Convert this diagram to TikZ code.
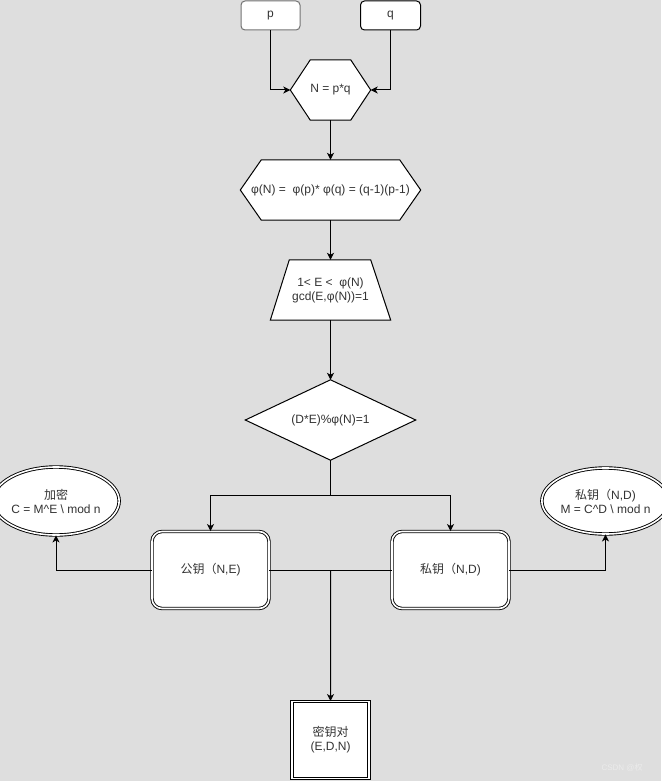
\documentclass[tikz,border=0pt]{standalone}
\usepackage{fontspec}
\setmainfont{Liberation Sans}
\newfontfamily\cjk{Noto Sans CJK SC}
\usetikzlibrary{arrows.meta,shapes.geometric,calc}
\pgfdeclarelayer{bglayer}
\pgfdeclarelayer{shapelayer}
\pgfsetlayers{bglayer,shapelayer,main}
\definecolor{bgc}{RGB}{222,222,222}
\definecolor{txt}{RGB}{51,51,51}
\tikzset{
  every node/.style={font=\fontsize{12}{14}\selectfont, text=txt, align=center, inner sep=0pt},
  arr/.style={draw=black, line width=1pt, -{Stealth[length=7pt,width=7pt,inset=2pt]}},
  ln/.style={draw=black, line width=1pt},
  rbox/.style={draw, fill=white, rounded corners=4pt, line width=1pt},
  dbl/.style={draw, fill=white, line width=0.9pt, double=white, double distance=1.6pt},
  shp/.style={draw=black, fill=white, line width=1pt, line join=miter},
}
\begin{document}
\begin{tikzpicture}[x=1pt,y=-1pt]
\begin{pgfonlayer}{bglayer}
\fill[bgc] (0,0) rectangle (661,781);
\end{pgfonlayer}
\useasboundingbox (0,0) rectangle (661,781);

% input boxes
\node[rbox, draw=black!55, minimum width=59, minimum height=29] (p) at (270.5,15.5) {p};
\node[rbox, minimum width=60, minimum height=29] (q) at (390.5,15.5) {q};

% hexagon 1
\node[minimum width=80, minimum height=60] (h1) at (330.5,90) {N = p*q};
% hexagon 2
\node[minimum width=180, minimum height=60] (h2) at (330.5,190) {φ(N) = \ φ(p)* φ(q) = (q-1)(p-1)};
% trapezoid
\node[minimum width=120, minimum height=60] (tr) at (330.5,290) {1\textless{} E \textless{} \ φ(N)\\gcd(E,φ(N))=1};
% diamond
\node[minimum width=170, minimum height=80] (dm) at (330.5,420) {(D*E)\%φ(N)=1};

\begin{pgfonlayer}{shapelayer}
\draw[shp] (h1.west) -- ([xshift=20]h1.north west) -- ([xshift=-20]h1.north east) -- (h1.east)
  -- ([xshift=-20]h1.south east) -- ([xshift=20]h1.south west) -- cycle;
\draw[shp] (h2.west) -- ([xshift=21]h2.north west) -- ([xshift=-21]h2.north east) -- (h2.east)
  -- ([xshift=-21]h2.south east) -- ([xshift=21]h2.south west) -- cycle;
\draw[shp] ([xshift=19]tr.north west) -- ([xshift=-20]tr.north east) -- (tr.south east) -- (tr.south west) -- cycle;
\draw[shp] (dm.west) -- (dm.north) -- (dm.east) -- (dm.south) -- cycle;
\end{pgfonlayer}

% key boxes
\node[dbl, rounded corners=10pt, minimum width=117, minimum height=77] (pub) at (210.5,570) {{\cjk 公钥（}N,E)};
\node[dbl, rounded corners=10pt, minimum width=117, minimum height=77] (priv) at (450.5,570) {{\cjk 私钥（}N,D)};
\node[dbl, minimum width=77, minimum height=77] (pair) at (330.5,740) {{\cjk 密钥对}\\(E,D,N)};

% ellipses
\node[dbl, ellipse, minimum width=110, minimum height=68] (enc) at (56,501)
  {{\cjk 加密}\\C = M\textasciicircum{}E \textbackslash{} mod n};
\node[dbl, ellipse, minimum width=108, minimum height=66] (dec) at (605.5,501)
  {{\cjk 私钥（}N,D)\\M = C\textasciicircum{}D \textbackslash{} mod n};

% connectors
\draw[arr] (p.south) |- (h1.west);
\draw[arr] (q.south) |- (h1.east);
\draw[arr] (h1.south) -- (h2.north);
\draw[arr] (h2.south) -- (tr.north);
\draw[arr] (tr.south) -- (dm.north);
\coordinate (j) at (330.5,495);
\draw[ln] (dm.south) -- (j);
\draw[arr] (j) -| (pub.north);
\draw[arr] (j) -| (priv.north);
\draw[ln] (pub.east) -- (priv.west);
\coordinate (k) at ($(pub.east)!0.5!(priv.west)$);
\draw[arr] (k) -- (pair.north);
\draw[arr] (pub.west) -| (enc.south);
\draw[arr] (priv.east) -| (dec.south);

% watermark
\node[font=\fontsize{8}{9}\selectfont, text=white!92!black] (wm) at (622,768) {CSDN @{\cjk 权}};
\end{tikzpicture}
\end{document}
